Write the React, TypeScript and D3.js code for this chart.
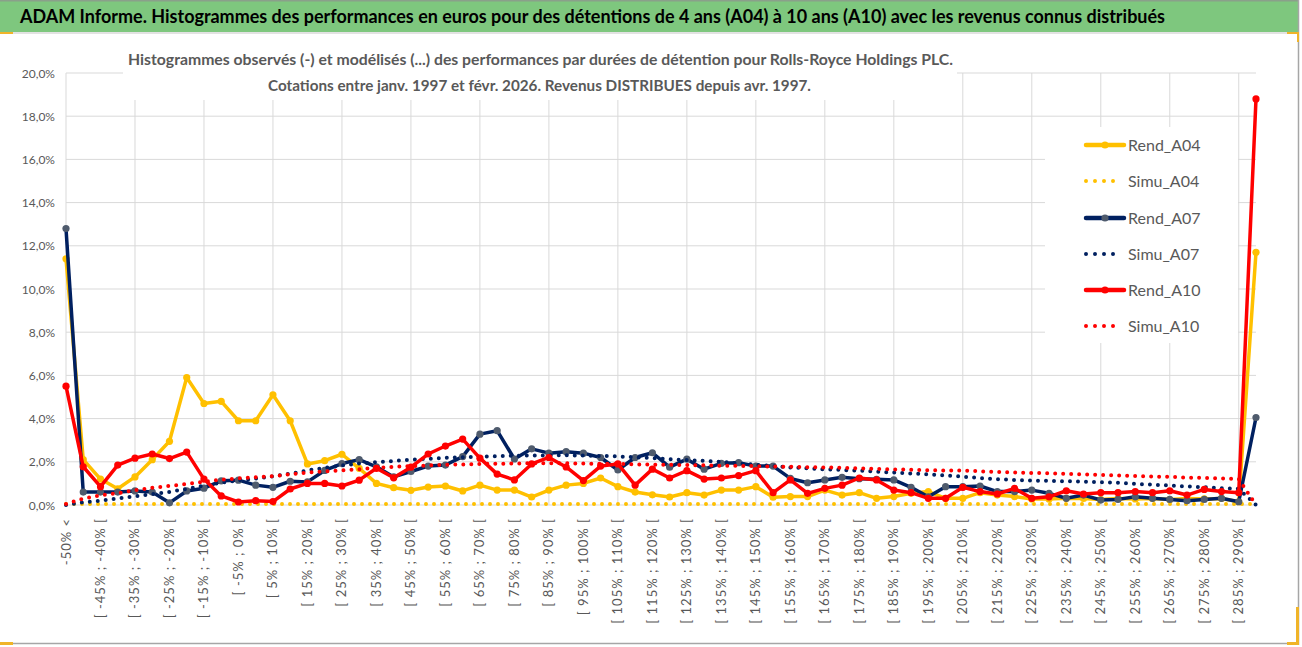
import React from "react";
import * as d3 from "d3";

const categories: string[] = [
  "-50% <", "[ -50% ; -45% [", "[ -45% ; -40% [", "[ -40% ; -35% [", "[ -35% ; -30% [", "[ -30% ; -25% [",
  "[ -25% ; -20% [", "[ -20% ; -15% [", "[ -15% ; -10% [", "[ -10% ; -5% [", "[ -5% ; 0% [", "[ 0% ; 5% [",
  "[ 5% ; 10% [", "[ 10% ; 15% [", "[ 15% ; 20% [", "[ 20% ; 25% [", "[ 25% ; 30% [", "[ 30% ; 35% [",
  "[ 35% ; 40% [", "[ 40% ; 45% [", "[ 45% ; 50% [", "[ 50% ; 55% [", "[ 55% ; 60% [", "[ 60% ; 65% [",
  "[ 65% ; 70% [", "[ 70% ; 75% [", "[ 75% ; 80% [", "[ 80% ; 85% [", "[ 85% ; 90% [", "[ 90% ; 95% [",
  "[ 95% ; 100% [", "[ 100% ; 105% [", "[ 105% ; 110% [", "[ 110% ; 115% [", "[ 115% ; 120% [", "[ 120% ; 125% [",
  "[ 125% ; 130% [", "[ 130% ; 135% [", "[ 135% ; 140% [", "[ 140% ; 145% [", "[ 145% ; 150% [", "[ 150% ; 155% [",
  "[ 155% ; 160% [", "[ 160% ; 165% [", "[ 165% ; 170% [", "[ 170% ; 175% [", "[ 175% ; 180% [", "[ 180% ; 185% [",
  "[ 185% ; 190% [", "[ 190% ; 195% [", "[ 195% ; 200% [", "[ 200% ; 205% [", "[ 205% ; 210% [", "[ 210% ; 215% [",
  "[ 215% ; 220% [", "[ 220% ; 225% [", "[ 225% ; 230% [", "[ 230% ; 235% [", "[ 235% ; 240% [", "[ 240% ; 245% [",
  "[ 245% ; 250% [", "[ 250% ; 255% [", "[ 255% ; 260% [", "[ 260% ; 265% [", "[ 265% ; 270% [", "[ 270% ; 275% [",
  "[ 275% ; 280% [", "[ 280% ; 285% [", "[ 285% ; 290% [", "290% <",
];

const rendA04: number[] = [
  11.4, 2.1, 1.2, 0.75, 1.3, 2.1, 2.95, 5.9, 4.7, 4.8,
  3.9, 3.9, 5.1, 3.9, 1.9, 2.05, 2.35, 1.7, 1.0, 0.8,
  0.68, 0.83, 0.88, 0.65, 0.92, 0.69, 0.69, 0.37, 0.69, 0.92,
  1.0, 1.25, 0.85, 0.6, 0.47, 0.37, 0.57, 0.46, 0.69, 0.69,
  0.85, 0.36, 0.39, 0.39, 0.69, 0.46, 0.57, 0.31, 0.39, 0.54,
  0.62, 0.31, 0.31, 0.57, 0.46, 0.39, 0.28, 0.28, 0.31, 0.3,
  0.25, 0.3, 0.28, 0.3, 0.25, 0.3, 0.28, 0.3, 0.15, 11.7,
];

const simuA04: number[] = [
  0.05, 0.05, 0.05, 0.05, 0.05, 0.05, 0.05, 0.05, 0.05, 0.05,
  0.05, 0.05, 0.05, 0.05, 0.05, 0.05, 0.05, 0.05, 0.05, 0.05,
  0.05, 0.05, 0.05, 0.05, 0.05, 0.05, 0.05, 0.05, 0.05, 0.05,
  0.05, 0.05, 0.05, 0.05, 0.05, 0.05, 0.05, 0.05, 0.05, 0.05,
  0.05, 0.05, 0.05, 0.05, 0.05, 0.05, 0.05, 0.05, 0.05, 0.05,
  0.05, 0.05, 0.05, 0.05, 0.05, 0.05, 0.05, 0.05, 0.05, 0.05,
  0.05, 0.05, 0.05, 0.05, 0.05, 0.05, 0.05, 0.05, 0.05, 0.05,
];

const rendA07: number[] = [
  12.8, 0.6, 0.6, 0.6, 0.65, 0.6, 0.1, 0.65, 0.78, 1.12,
  1.15, 0.92, 0.82, 1.1, 1.07, 1.6, 1.92, 2.1, 1.77, 1.3,
  1.55, 1.8, 1.85, 2.24, 3.28, 3.44, 2.13, 2.6, 2.4, 2.47,
  2.4, 2.2, 1.62, 2.2, 2.42, 1.75, 2.12, 1.66, 1.93, 1.96,
  1.8, 1.8, 1.23, 1.03, 1.16, 1.28, 1.22, 1.19, 1.16, 0.82,
  0.38, 0.85, 0.85, 0.88, 0.62, 0.62, 0.69, 0.54, 0.31, 0.46,
  0.23, 0.26, 0.38, 0.31, 0.26, 0.2, 0.26, 0.31, 0.15, 4.05,
];

const simuA07: number[] = [
  0.0, 0.12, 0.2, 0.3, 0.4, 0.5, 0.6, 0.75, 0.9, 1.03,
  1.13, 1.23, 1.33, 1.45, 1.6, 1.72, 1.83, 1.92, 1.98, 2.04,
  2.09, 2.14, 2.18, 2.21, 2.24, 2.26, 2.28, 2.29, 2.3, 2.3,
  2.29, 2.27, 2.25, 2.21, 2.17, 2.12, 2.08, 2.04, 2.0, 1.93,
  1.86, 1.8, 1.74, 1.7, 1.65, 1.62, 1.59, 1.55, 1.5, 1.46,
  1.42, 1.37, 1.31, 1.25, 1.19, 1.16, 1.13, 1.12, 1.1, 1.08,
  1.05, 1.03, 0.98, 0.94, 0.9, 0.86, 0.82, 0.78, 0.75, 0.0,
];

const rendA10: number[] = [
  5.5, 1.77, 0.85, 1.85, 2.17, 2.36, 2.15, 2.45, 1.2, 0.42,
  0.14, 0.2, 0.16, 0.74, 1.0, 1.0, 0.88, 1.15, 1.7, 1.26,
  1.75, 2.36, 2.73, 3.05, 2.17, 1.43, 1.16, 1.9, 2.2, 1.76,
  1.13, 1.8, 1.9, 0.92, 1.66, 1.25, 1.59, 1.2, 1.25, 1.36,
  1.59, 0.57, 1.16, 0.54, 0.77, 0.92, 1.25, 1.16, 0.69, 0.57,
  0.31, 0.31, 0.82, 0.62, 0.51, 0.77, 0.31, 0.38, 0.66, 0.51,
  0.57, 0.57, 0.62, 0.57, 0.66, 0.46, 0.72, 0.62, 0.57, 18.8,
];

const simuA10: number[] = [
  0.05, 0.3, 0.45, 0.55, 0.68, 0.8, 0.88, 0.97, 1.08, 1.17,
  1.23, 1.28, 1.34, 1.42, 1.5, 1.55, 1.6, 1.66, 1.72, 1.77,
  1.8, 1.83, 1.86, 1.88, 1.9, 1.91, 1.92, 1.93, 1.93, 1.93,
  1.92, 1.91, 1.9, 1.88, 1.87, 1.86, 1.85, 1.84, 1.82, 1.81,
  1.8, 1.78, 1.77, 1.75, 1.74, 1.72, 1.7, 1.67, 1.65, 1.63,
  1.61, 1.6, 1.59, 1.56, 1.53, 1.5, 1.48, 1.47, 1.44, 1.42,
  1.39, 1.37, 1.34, 1.32, 1.3, 1.27, 1.25, 1.23, 1.2, 0.0,
];

const yTicks: number[] = [0, 2, 4, 6, 8, 10, 12, 14, 16, 18, 20];

const seriesNames: string[] = ["Rend_A04", "Simu_A04", "Rend_A07", "Simu_A07", "Rend_A10", "Simu_A10"];

const mainTitle =
  "ADAM Informe. Histogrammes des performances en euros pour des détentions de 4 ans (A04) à 10 ans (A10) avec les revenus connus distribués";
const subTitle1 =
  "Histogrammes observés (-) et modélisés (...) des performances par durées de détention pour Rolls-Royce Holdings PLC.";
const subTitle2 = "Cotations entre janv. 1997 et févr. 2026. Revenus DISTRIBUES depuis avr. 1997.";

const YELLOW = "#FFC000";
const NAVY = "#002060";
const RED = "#FF0000";
const GRID = "#D9D9D9";
const TXT = "#595959";
const FONT = "Lato, 'Open Sans', 'Liberation Sans', sans-serif";

type Series = {
  name: string;
  values: number[];
  color: string;
  marker: string | null;
  dotted: boolean;
};

const series: Series[] = [
  { name: seriesNames[0], values: rendA04, color: YELLOW, marker: YELLOW, dotted: false },
  { name: seriesNames[1], values: simuA04, color: YELLOW, marker: null, dotted: true },
  { name: seriesNames[2], values: rendA07, color: NAVY, marker: "#4F5B6D", dotted: false },
  { name: seriesNames[3], values: simuA07, color: NAVY, marker: null, dotted: true },
  { name: seriesNames[4], values: rendA10, color: RED, marker: RED, dotted: false },
  { name: seriesNames[5], values: simuA10, color: RED, marker: null, dotted: true },
];

export default function App() {
  const W = 1302;
  const H = 647;
  const x = d3
    .scalePoint<number>()
    .domain(categories.map((_, i) => i))
    .range([66, 1256]);
  const y = d3.scaleLinear().domain([0, 20]).range([505, 73]);

  const line = d3
    .line<number>()
    .x((_, i) => x(i) as number)
    .y((d) => y(d));

  const vGrid = categories.map((_, i) => i).filter((i) => i % 4 === 0);
  const legendY = [145, 181, 218, 254, 290, 326];

  return (
    <div style={{ position: "absolute", left: 0, top: 0 }}>
      <svg width={W} height={H} viewBox={`0 0 ${W} ${H}`} style={{ display: "block" }}>
        <rect x={0} y={0} width={W} height={H} fill="#ffffff" />
        {/* header bar */}
        <rect x={0} y={0} width={1299} height={32} fill="#7EC77E" />
        <line x1={0} y1={0.75} x2={1299} y2={0.75} stroke="#8AA08A" strokeWidth={1.5} />
        <line x1={0} y1={33} x2={1298} y2={33} stroke="#D9D9D9" strokeWidth={1.5} />
        <text
          x={20}
          y={23}
          fontFamily={FONT}
          fontSize={18}
          fontWeight={700}
          fill="#000000"
          textLength={1145}
          lengthAdjust="spacingAndGlyphs"
        >
          {mainTitle}
        </text>

        {/* gridlines */}
        <g>
          {yTicks.map((t) => (
            <line key={"h" + t} x1={66} x2={1256} y1={y(t)} y2={y(t)} stroke={GRID} strokeWidth={1} />
          ))}
          {vGrid.map((i) => (
            <line key={"v" + i} x1={x(i)} x2={x(i)} y1={y(20)} y2={y(0)} stroke={GRID} strokeWidth={1} />
          ))}
        </g>

        {/* y axis labels */}
        <g>
          {yTicks.map((t) => (
            <text
              key={"yl" + t}
              x={55}
              y={y(t) + 4.5}
              textAnchor="end"
              fontFamily={FONT}
              fontSize={12}
              fill={TXT}
            >
              {t.toFixed(1).replace(".", ",") + "%"}
            </text>
          ))}
        </g>

        {/* x axis labels */}
        <g>
          {categories.map((c, i) =>
            i % 2 === 0 ? (
              <text
                key={"xl" + i}
                transform={`translate(${(x(i) as number) + 4.5},518) rotate(-90)`}
                textAnchor="end"
                fontFamily={FONT}
                fontSize={13}
                letterSpacing={1}
                fill={TXT}
              >
                {c}
              </text>
            ) : null
          )}
        </g>

        {/* series */}
        <g>
          {series.map((s) => (
            <g key={s.name}>
              <path
                d={line(s.values) || ""}
                fill="none"
                stroke={s.color}
                strokeWidth={s.dotted ? 4 : 3.5}
                strokeLinejoin="round"
                strokeLinecap="round"
                strokeDasharray={s.dotted ? "0 8" : undefined}
              />
              {s.marker
                ? s.values.map((v, i) => (
                    <circle key={i} cx={x(i)} cy={y(v)} r={3.6} fill={s.marker as string} />
                  ))
                : null}
            </g>
          ))}
        </g>

        {/* chart title box */}
        <rect x={123} y={40} width={834} height={60} fill="#ffffff" />
        <text
          x={128}
          y={65}
          fontFamily={FONT}
          fontSize={15}
          fontWeight={700}
          fill={TXT}
          textLength={825}
          lengthAdjust="spacingAndGlyphs"
        >
          {subTitle1}
        </text>
        <text
          x={268}
          y={91}
          fontFamily={FONT}
          fontSize={15}
          fontWeight={700}
          fill={TXT}
          textLength={543}
          lengthAdjust="spacingAndGlyphs"
        >
          {subTitle2}
        </text>

        {/* legend */}
        <rect x={1045} y={127} width={193} height={216} fill="#ffffff" />
        {series.map((s, k) => (
          <g key={"lg" + s.name}>
            <line
              x1={1086}
              x2={s.dotted ? 1120 : 1124}
              y1={legendY[k]}
              y2={legendY[k]}
              stroke={s.color}
              strokeWidth={s.dotted ? 4 : 4.5}
              strokeLinecap="round"
              strokeDasharray={s.dotted ? "0 9" : undefined}
            />
            {s.marker ? <circle cx={1105} cy={legendY[k]} r={3.6} fill={s.marker} /> : null}
            <text x={1128} y={legendY[k] + 6} fontFamily={FONT} fontSize={16} fill={TXT}>
              {s.name}
            </text>
          </g>
        ))}

        {/* outer frame */}
        <line x1={1298.5} y1={0} x2={1298.5} y2={645} stroke="#A6A6A6" strokeWidth={1.5} />
        <line x1={0} y1={643.5} x2={1299} y2={643.5} stroke="#A6A6A6" strokeWidth={1.5} />
        <rect x={0} y={32} width={13} height={2} fill="#F0B429" />
        <rect x={1287} y={32} width={12} height={2} fill="#F0B429" />
        <rect x={1297} y={32} width={2} height={10} fill="#F0B429" />
        <rect x={0} y={642} width={13} height={3} fill="#F0B429" />
        <rect x={1287} y={642} width={12} height={3} fill="#F0B429" />
        <rect x={1296} y={607} width={3} height={38} fill="#F0B429" />
      </svg>
    </div>
  );
}
